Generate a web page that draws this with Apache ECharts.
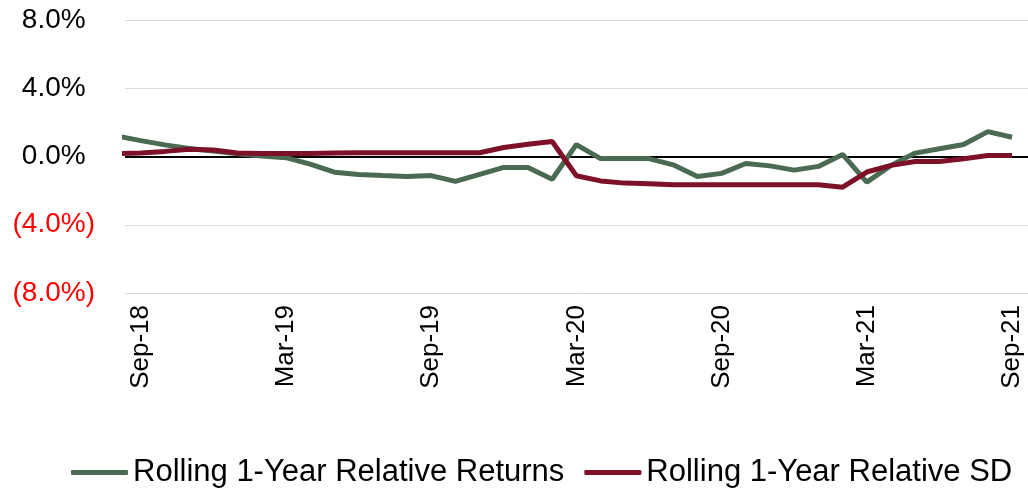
<!DOCTYPE html>
<html>
<head>
<meta charset="utf-8">
<script src="https://cdn.jsdelivr.net/npm/echarts@6/dist/echarts.min.js"></script>
<style>
  html, body { margin: 0; padding: 0; background: #fff; }
  #chart { width: 1028px; height: 496px; }
</style>
</head>
<body>
<div id="chart"></div>
<script>
// months, first one (Aug-18) sits just left of the plot and is clipped
const months = [
  'Aug-18', 'Sep-18', 'Oct-18', 'Nov-18', 'Dec-18',
  'Jan-19', 'Feb-19', 'Mar-19', 'Apr-19', 'May-19', 'Jun-19', 'Jul-19', 'Aug-19', 'Sep-19', 'Oct-19', 'Nov-19', 'Dec-19',
  'Jan-20', 'Feb-20', 'Mar-20', 'Apr-20', 'May-20', 'Jun-20', 'Jul-20', 'Aug-20', 'Sep-20', 'Oct-20', 'Nov-20', 'Dec-20',
  'Jan-21', 'Feb-21', 'Mar-21', 'Apr-21', 'May-21', 'Jun-21', 'Jul-21', 'Aug-21', 'Sep-21'
]
const relReturns = [
  1.2, 0.93, 0.68, 0.47, 0.32,
  0.16, 0.03, -0.07, -0.45, -0.92, -1.05, -1.12, -1.17, -1.12, -1.46, -1.05, -0.64,
  -0.64, -1.33, 0.7, -0.12, -0.12, -0.12, -0.49, -1.17, -0.99, -0.41, -0.55, -0.8,
  -0.58, 0.12, -1.5, -0.52, 0.2, 0.45, 0.7, 1.46, 1.13
]
const relSD = [
  0.17, 0.2, 0.3, 0.43, 0.38,
  0.2, 0.17, 0.17, 0.18, 0.2, 0.22, 0.22, 0.22, 0.22, 0.22, 0.22, 0.53,
  0.72, 0.88, -1.13, -1.43, -1.56, -1.6, -1.66, -1.66, -1.66, -1.66, -1.66, -1.66,
  -1.66, -1.8, -0.91, -0.52, -0.29, -0.29, -0.13, 0.06, 0.06
]
const xTicks = [1, 7, 13, 19, 25, 31, 37]
const seriesNames = ['Rolling 1-Year Relative Returns', 'Rolling 1-Year Relative SD']

const FONT = 'Liberation Sans'

const chart = echarts.init(document.getElementById('chart'))

const option = {
  animation: false,
  grid: {
    left: 125,
    right: 0,
    top: 20,
    bottom: 203
  },
  legend: {
    data: seriesNames,
    left: 66,
    top: 452,
    icon: 'roundRect',
    itemWidth: 57,
    itemHeight: 5,
    itemGap: 20,
    textStyle: {
      fontFamily: FONT,
      fontSize: 31,
      color: '#000'
    }
  },
  xAxis: {
    type: 'value',
    min: 0.35,
    max: 37.66,
    splitLine: { show: false },
    axisLine: { show: false },
    axisTick: { show: false },
    axisLabel: {
      customValues: xTicks,
      rotate: 90,
      margin: 12,
      fontFamily: FONT,
      fontSize: 26,
      color: '#000',
      formatter: v => months[v] || ''
    }
  },
  yAxis: [
    {
      type: 'value',
      min: -8,
      max: 8,
      interval: 4,
      axisLine: { show: false },
      axisTick: { show: false },
      splitLine: {
        lineStyle: { color: '#d9d9d9', width: 1 }
      },
      axisLabel: {
        margin: 30,
        formatter: v => {
          const s = Math.abs(v).toFixed(1) + '%'
          return v < 0 ? '{n|(' + s + ')}' : '{p|' + s + '}{h|)}'
        },
        rich: {
          p: { fontFamily: FONT, fontSize: 28, color: '#000' },
          h: { fontFamily: FONT, fontSize: 28, color: 'rgba(0,0,0,0)' },
          n: { fontFamily: FONT, fontSize: 28, color: '#ff0000' }
        }
      }
    },
    {
      // only used for the black zero line
      type: 'value',
      min: -8,
      max: 8,
      interval: 8,
      position: 'left',
      axisLine: { show: false },
      axisTick: { show: false },
      axisLabel: { show: false },
      splitLine: {
        lineStyle: {
          color: ['rgba(0,0,0,0)', '#000', 'rgba(0,0,0,0)'],
          width: 2
        }
      }
    }
  ],
  series: [
    {
      name: seriesNames[0],
      type: 'line',
      showSymbol: false,
      clip: true,
      lineStyle: { color: '#4a6a51', width: 5 },
      itemStyle: { color: '#4a6a51' },
      data: relReturns.map((v, i) => [i, v])
    },
    {
      name: seriesNames[1],
      type: 'line',
      showSymbol: false,
      clip: true,
      lineStyle: { color: '#7d1128', width: 5 },
      itemStyle: { color: '#7d1128' },
      data: relSD.map((v, i) => [i, v])
    }
  ]
}

chart.setOption(option)
</script>
</body>
</html>
